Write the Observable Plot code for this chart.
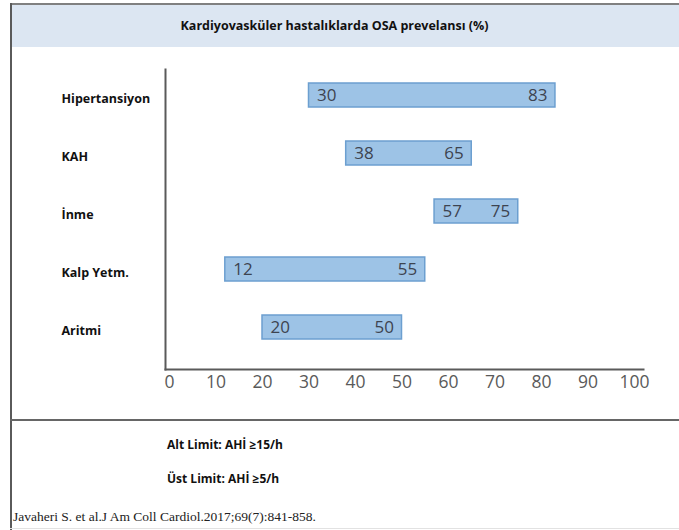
<!DOCTYPE html>
<html lang="tr">
<head>
<meta charset="utf-8">
<script src="https://cdn.jsdelivr.net/npm/d3@7"></script>
<script src="https://cdn.jsdelivr.net/npm/@observablehq/plot@0.6"></script>
<style>
  html, body { margin: 0; padding: 0; background: #ffffff; }
  #page { position: relative; width: 679px; height: 530px; overflow: hidden; font-family: "Open Sans", sans-serif; color: #111; }
  .line { position: absolute; z-index: 2; }
  #header { position: absolute; top: 5px; left: 12px; right: 0; height: 42px; background: #dce6f2; }
  #title { position: absolute; top: 5px; left: 0; width: 669px; height: 42px; line-height: 42px; text-align: center; font-size: 12.5px; font-weight: 700; z-index: 3; }
  #chart { position: absolute; top: 48px; left: 0; }
  .note { position: absolute; left: 167px; font-size: 12px; font-weight: 700; line-height: 20px; }
  #cite { position: absolute; left: 13px; top: 508px; font-family: "Liberation Serif", "Times New Roman", serif; font-size: 13.5px; line-height: 18px; color: #222; }
</style>
</head>
<body>
<div id="page">
  <div id="header"></div>
  <div id="title">Kardiyovasküler hastalıklarda OSA prevelansı (%)</div>
  <div id="chart"></div>
  <div class="line" style="top:3px;left:10px;right:0;height:2px;background:#808080;"></div>
  <div class="line" style="top:3px;left:10px;bottom:0;width:2px;background:#5a5a5a;"></div>
  <div class="line" style="top:419px;left:10px;right:0;height:2px;background:#666666;"></div>
  <div class="line" style="top:528px;left:10px;right:0;height:1px;background:#e2e2e2;"></div>
  <div class="note" style="top:435px;">Alt Limit: AHİ ≥15/h</div>
  <div class="note" style="top:469px;">Üst Limit: AHİ ≥5/h</div>
  <div id="cite">Javaheri S. et al.J Am Coll Cardiol.2017;69(7):841-858.</div>
</div>
<script>
// Conditions and OSA prevalence range (%): lower and upper limit per condition
const categories = ["Hipertansiyon", "KAH", "İnme", "Kalp Yetm.", "Aritmi"];
const lowValues = [30, 38, 57, 12, 20];
const highValues = [83, 65, 75, 55, 50];
const xTicks = [0, 10, 20, 30, 40, 50, 60, 70, 80, 90, 100];

const rows = categories.map((category, i) => ({
  category,
  low: lowValues[i],
  high: highValues[i]
}));

const chart = Plot.plot({
  width: 679,
  height: 372,
  marginTop: 21,
  marginBottom: 51,
  marginLeft: 165,
  marginRight: 36,
  style: { background: "transparent", fontFamily: "Open Sans, sans-serif" },
  x: { domain: [0, 100], insetLeft: 4, insetRight: 9 },
  y: { domain: categories, paddingInner: 0.584, paddingOuter: 0.2, insetBottom: 16 },
  marks: [
    Plot.barX(rows, {
      x1: "low", x2: "high", y: "category",
      fill: "#9dc3e6", stroke: "#6c9fd0", strokeWidth: 1.5
    }),
    Plot.text(rows, {
      x: "low", y: "category", text: d => String(d.low),
      textAnchor: "start", dx: 8, fontSize: 17, fill: "#3d4450"
    }),
    Plot.text(rows, {
      x: "high", y: "category", text: d => String(d.high),
      textAnchor: "end", dx: -8, fontSize: 17, fill: "#3d4450"
    }),
    Plot.axisX({
      ticks: xTicks, tickSize: 0, tickPadding: 6, label: null,
      fontSize: 17.5, fill: "#5a5a5a"
    }),
    Plot.axisY({
      tickSize: 0, tickPadding: 0, label: null, textAnchor: "start", dx: -104, dy: 3,
      fontSize: 12.5, fontWeight: "bold", fill: "#111"
    }),
    Plot.frame({ anchor: "left", stroke: "#5a5a5a", strokeWidth: 2 }),
    Plot.frame({ anchor: "bottom", stroke: "#5a5a5a", strokeWidth: 2 })
  ]
});

document.getElementById("chart").appendChild(chart);
</script>
</body>
</html>
